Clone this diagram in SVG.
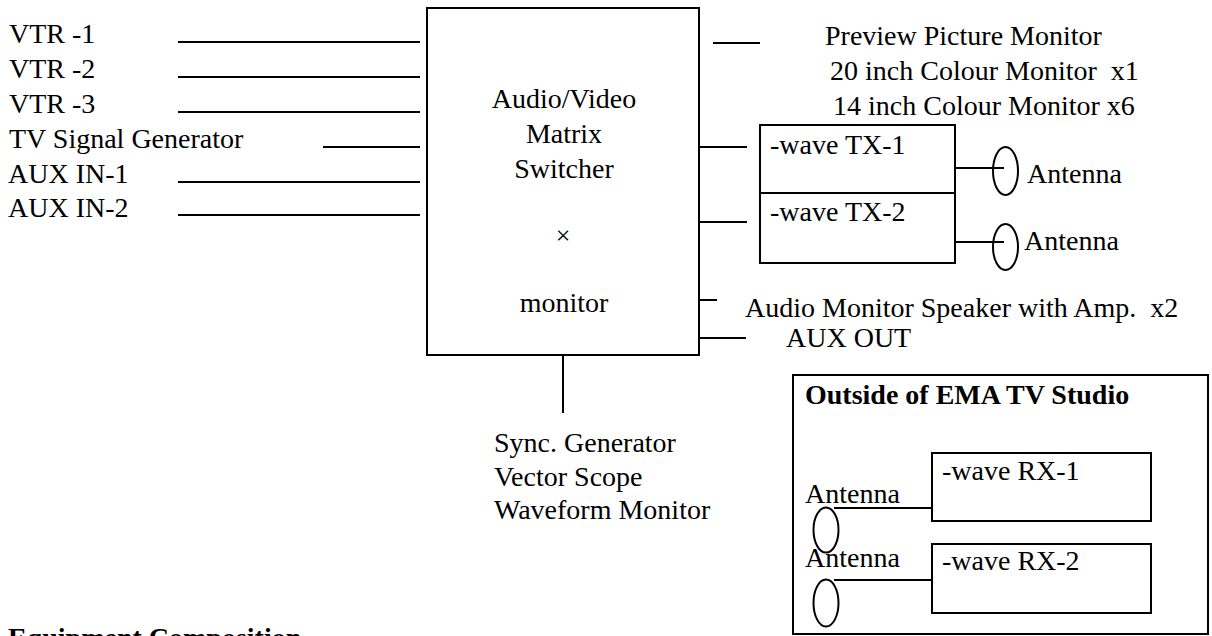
<svg xmlns="http://www.w3.org/2000/svg" width="1212" height="636" viewBox="0 0 1212 636">
<style>
text{font-family:"Liberation Serif","Times New Roman",serif;font-size:28px;fill:#000;white-space:pre}
.b{font-weight:bold}
.m{text-anchor:middle}
.ln{stroke:#000;stroke-width:2;fill:none}
.box{stroke:#000;stroke-width:2;fill:none}
</style>
<rect width="1212" height="636" fill="#fff"/>
<g id="inputs">
<text x="9" y="43">VTR -1</text>
<text x="9" y="78">VTR -2</text>
<text x="9" y="113">VTR -3</text>
<text x="9" y="148">TV Signal Generator</text>
<text x="8" y="183">AUX IN-1</text>
<text x="8" y="217">AUX IN-2</text>
</g>
<g id="switcher">
<rect class="box" x="427" y="8" width="272" height="347"/>
<text class="m" x="564" y="108">Audio/Video</text>
<text class="m" x="564" y="143">Matrix</text>
<text class="m" x="564" y="178">Switcher</text>
<text class="m" x="563" y="244" style="font-size:26px">×</text>
<text class="m" x="564" y="312">monitor</text>
</g>
<g id="monitors">
<text x="825" y="45">Preview Picture Monitor</text>
<text x="830" y="80" xml:space="preserve">20 inch Colour Monitor  x1</text>
<text x="833" y="115">14 inch Colour Monitor x6</text>
</g>
<g id="tx1">
<rect class="box" x="760" y="125" width="195" height="68"/>
<text x="770" y="154">-wave TX-1</text>
</g>
<g id="tx2">
<rect class="box" x="760" y="193" width="195" height="70"/>
<text x="770" y="221">-wave TX-2</text>
</g>
<g id="antenna-tx1">
<ellipse class="box" cx="1005.500" cy="171" rx="12.500" ry="24"/>
<text x="1027" y="183">Antenna</text>
</g>
<g id="antenna-tx2">
<ellipse class="box" cx="1005.500" cy="247" rx="12.500" ry="23"/>
<text x="1024" y="250">Antenna</text>
</g>
<g id="audio-monitor">
<text x="745" y="317" xml:space="preserve">Audio Monitor Speaker with Amp.  x2</text>
</g>
<g id="aux-out">
<text x="786" y="347">AUX OUT</text>
</g>
<g id="measurement">
<text x="494" y="452">Sync. Generator</text>
<text x="494" y="486">Vector Scope</text>
<text x="494" y="519">Waveform Monitor</text>
</g>
<g id="outside">
<rect class="box" x="793" y="375" width="415" height="259"/>
<text class="b" x="805" y="404">Outside of EMA TV Studio</text>
</g>
<g id="rx1">
<rect class="box" x="932" y="453" width="219" height="68"/>
<text x="942" y="480">-wave RX-1</text>
</g>
<g id="rx2">
<rect class="box" x="932" y="544" width="219" height="69"/>
<text x="942" y="570">-wave RX-2</text>
</g>
<g id="antenna-rx1">
<ellipse class="box" cx="826" cy="530" rx="12.500" ry="22.500"/>
<text x="805" y="503">Antenna</text>
</g>
<g id="antenna-rx2">
<ellipse class="box" cx="826" cy="603" rx="12.500" ry="23.500"/>
<text x="805" y="567">Antenna</text>
</g>
<g id="caption">
<text class="b" x="8" y="647">Equipment Composition</text>
</g>
<g id="connectors" class="ln">
<line class="ln" x1="178" y1="42" x2="420" y2="42"/>
<line class="ln" x1="178" y1="77" x2="420" y2="77"/>
<line class="ln" x1="178" y1="112" x2="420" y2="112"/>
<line class="ln" x1="323" y1="147" x2="420" y2="147"/>
<line class="ln" x1="178" y1="182" x2="420" y2="182"/>
<line class="ln" x1="178" y1="215" x2="420" y2="215"/>
<line class="ln" x1="713" y1="43" x2="760" y2="43"/>
<line class="ln" x1="699" y1="147" x2="747" y2="147"/>
<line class="ln" x1="699" y1="222" x2="747" y2="222"/>
<line class="ln" x1="955" y1="168" x2="1004" y2="168"/>
<line class="ln" x1="955" y1="242" x2="1004" y2="242"/>
<line class="ln" x1="699" y1="300" x2="717" y2="300"/>
<line class="ln" x1="699" y1="338" x2="746" y2="338"/>
<line class="ln" x1="563" y1="355" x2="563" y2="413"/>
<line class="ln" x1="834" y1="508" x2="932" y2="508"/>
<line class="ln" x1="834" y1="580" x2="932" y2="580"/>
</g>
</svg>
